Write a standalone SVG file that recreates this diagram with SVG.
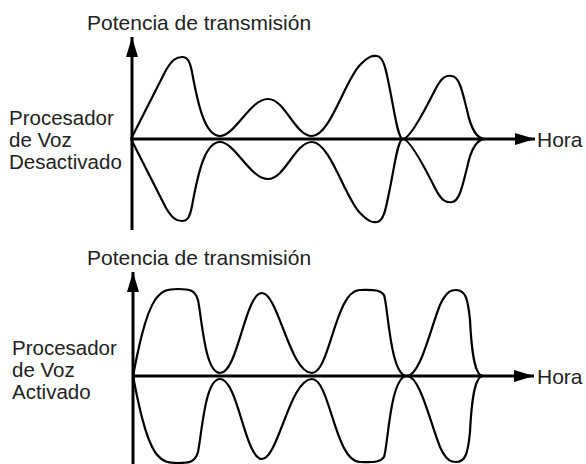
<svg xmlns="http://www.w3.org/2000/svg" width="586" height="464" viewBox="0 0 586 464">
<defs>
<marker id="ah" viewBox="0 0 20 12" refX="20" refY="6" markerWidth="20" markerHeight="12" markerUnits="userSpaceOnUse" orient="auto">
<path d="M0,0 L20,6 L0,12 Z" fill="#000"/>
</marker>
<style>
text{font-family:"Liberation Sans",Arial,sans-serif;font-size:21px;fill:#222}
.lb{font-size:20.5px}
.ax{stroke:#000;stroke-width:3;fill:none}
.w{stroke:#000;stroke-width:2.2;fill:none}
</style>
</defs>
<g id="top-chart">
<text x="87" y="30">Potencia de transmisión</text>
<g id="top-label"><text class="lb" x="9" y="125">Procesador</text><text class="lb" x="9" y="147">de Voz</text><text class="lb" x="9" y="169">Desactivado</text></g>
<text x="537" y="147">Hora</text>
<g id="top-connectors">
<line class="ax" x1="132" y1="230" x2="132" y2="37" marker-end="url(#ah)"/>
<line class="ax" x1="132" y1="139" x2="535" y2="139" marker-end="url(#ah)"/>
</g>
<path id="top-upper" class="w" d="M131,139 L166,70 C172,60 176,57 182,57 C188,57 190,62 192,72 C198,105 205,136 220,136 C235,136 250,99 268,99 C285,99 295,136 312,136 C330,136 345,80 360,65 C368,57 372,55 377,56 C384,57 386,70 390,90 C395,115 398,139 403,139 C410,139 425,110 435,90 C442,76 447,75 452,76 C460,77 463,95 467,110 C471,130 478,139 485,139"/>
<path id="top-lower" class="w" d="M131,139 L166,208 C172,218 176,221 182,221 C188,221 190,216 192,206 C198,173 205,142 220,142 C235,142 250,179 268,179 C285,179 295,142 312,142 C330,142 345,198 360,213 C368,221 372,223 377,222 C384,221 386,208 390,188 C395,163 398,139 403,139 C410,139 425,168 435,188 C442,202 447,203 452,202 C460,201 463,183 467,168 C471,148 478,139 485,139"/>
</g>
<g id="bottom-chart">
<text x="87" y="265">Potencia de transmisión</text>
<g id="bottom-label"><text class="lb" x="12" y="355">Procesador</text><text class="lb" x="12" y="377">de Voz</text><text class="lb" x="12" y="399">Activado</text></g>
<text x="537" y="384">Hora</text>
<g id="bottom-connectors">
<line class="ax" x1="133" y1="464" x2="133" y2="272" marker-end="url(#ah)"/>
<line class="ax" x1="133" y1="376" x2="534" y2="376" marker-end="url(#ah)"/>
</g>
<path id="bottom-upper" class="w" d="M133,376 C138,350 145,315 155,300 C162,290 168,289 178,289 C190,289 195,290 198,300 C202,320 205,373 220,373 C238,373 245,293 262,293 C278,293 290,373 312,373 C330,373 335,290 360,290 C372,290 380,289 384,295 C388,305 390,376 407,376 C420,376 430,330 440,305 C447,290 452,290 456,290 C466,290 468,300 470,320 C472,360 476,376 483,376"/>
<path id="bottom-lower" class="w" d="M133,376 C138,402 145,437 155,452 C162,462 168,463 178,463 C190,463 195,462 198,452 C202,432 205,379 220,379 C238,379 245,459 262,459 C278,459 290,379 312,379 C330,379 335,462 360,462 C372,462 380,463 384,457 C388,447 390,376 407,376 C420,376 430,422 440,447 C447,462 452,462 456,462 C466,462 468,452 470,432 C472,392 476,376 483,376"/>
</g>
</svg>
